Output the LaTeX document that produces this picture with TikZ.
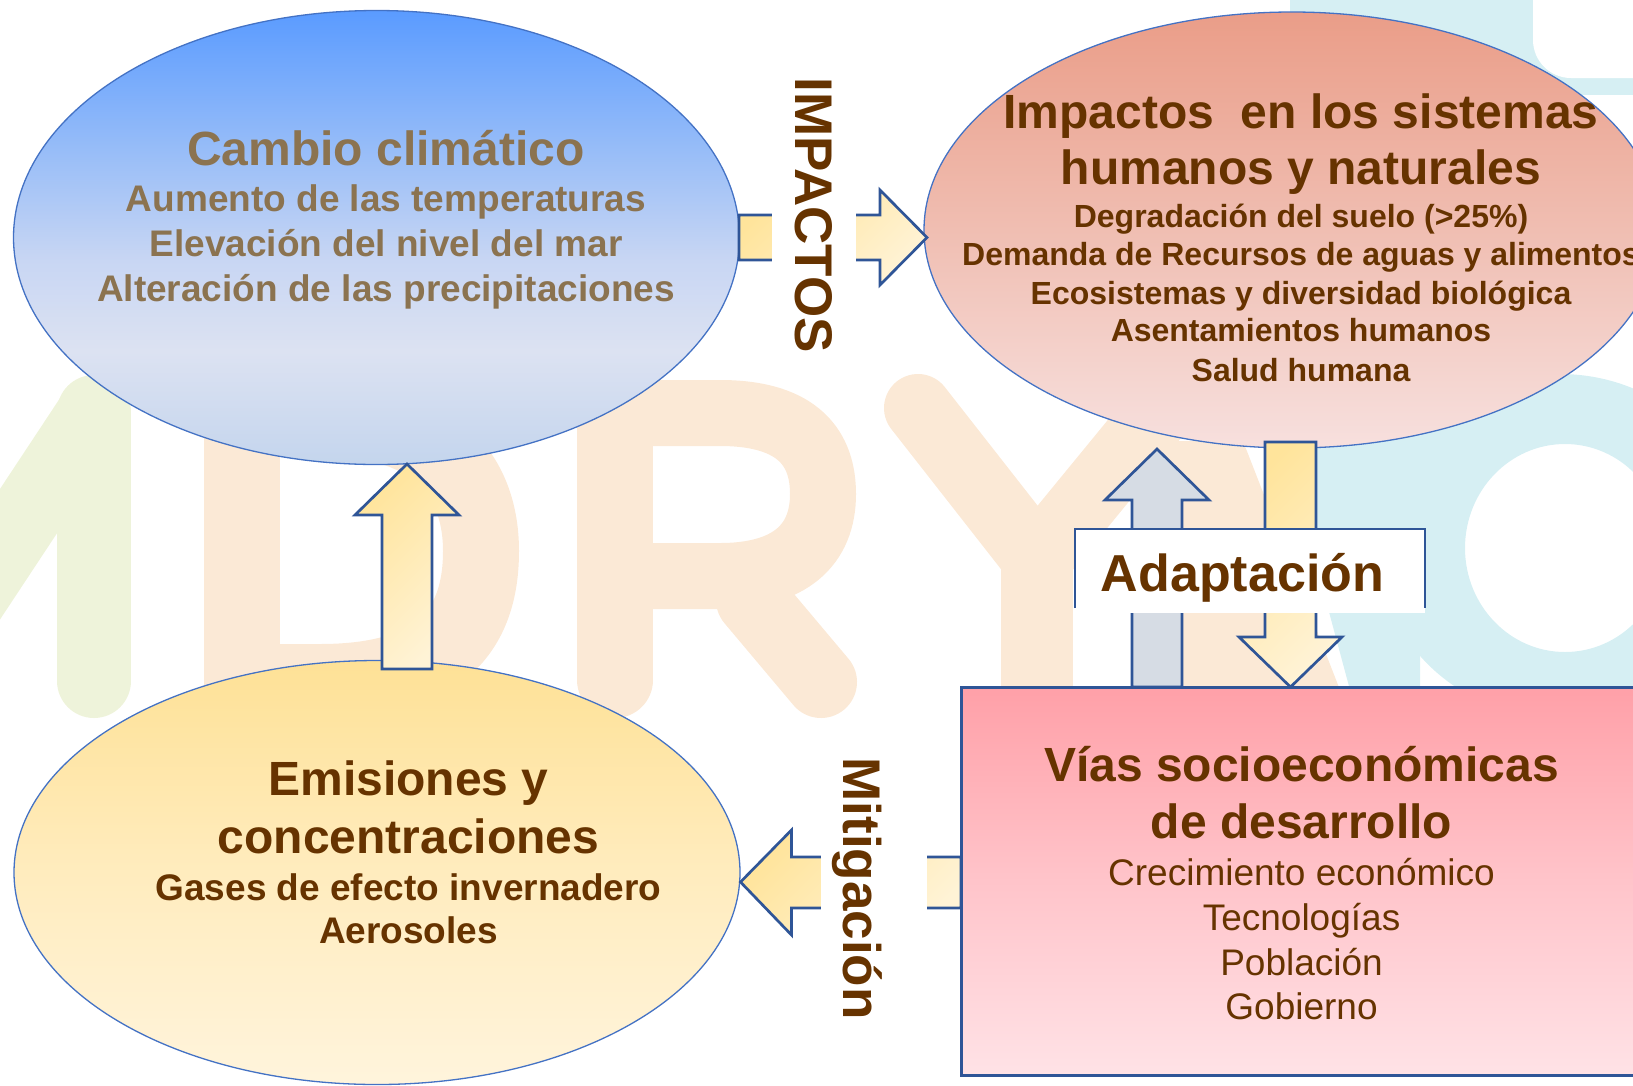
\documentclass[tikz,border=0pt]{standalone}
\usepackage{fontspec}
\setmainfont{Liberation Sans}
\usetikzlibrary{shapes.geometric}
\definecolor{brn}{RGB}{102,51,0}
\definecolor{olv}{RGB}{139,115,80}
\definecolor{ebl}{RGB}{68,114,196}
\definecolor{abl}{RGB}{47,85,151}
\definecolor{ydark}{RGB}{255,228,155}
\definecolor{ylight}{RGB}{255,243,214}
\definecolor{adgrey}{RGB}{214,220,228}
\definecolor{wmgreen}{RGB}{238,243,218}
\definecolor{wmorange}{RGB}{251,233,214}
\definecolor{wmcyan}{RGB}{214,239,243}
\definecolor{cA1}{RGB}{90,155,255}
\definecolor{cA2}{RGB}{150,188,248}
\definecolor{cA3}{RGB}{200,214,243}
\definecolor{cA4}{RGB}{220,226,242}
\definecolor{cA5}{RGB}{196,213,237}
\definecolor{iA1}{RGB}{234,157,136}
\definecolor{iA2}{RGB}{240,190,178}
\definecolor{iA3}{RGB}{247,224,222}
\definecolor{eA1}{RGB}{254,225,150}
\definecolor{eA2}{RGB}{255,236,190}
\definecolor{eA3}{RGB}{255,244,220}
\definecolor{vA1}{RGB}{255,160,168}
\definecolor{vA2}{RGB}{255,196,202}
\definecolor{vA3}{RGB}{255,226,230}
\pgfdeclareverticalshading{shCambio}{100bp}{color(0bp)=(cA5); color(25bp)=(cA5); color(37.5bp)=(cA4); color(47.5bp)=(cA3); color(60bp)=(cA2); color(75bp)=(cA1); color(100bp)=(cA1)}
\pgfdeclareverticalshading{shImp}{100bp}{color(0bp)=(iA3); color(25bp)=(iA3); color(50bp)=(iA2); color(75bp)=(iA1); color(100bp)=(iA1)}
\pgfdeclareverticalshading{shEmis}{100bp}{color(0bp)=(eA3); color(25bp)=(eA3); color(50bp)=(eA2); color(75bp)=(eA1); color(100bp)=(eA1)}
\pgfdeclareverticalshading{shVias}{100bp}{color(0bp)=(vA3); color(25bp)=(vA3); color(50bp)=(vA2); color(75bp)=(vA1); color(100bp)=(vA1)}
\tikzset{
  bubble/.style={ellipse, draw=ebl, line width=1.3pt, shade, inner sep=0pt, outer sep=0pt},
  yarrow/.style={draw=abl, line width=2.7pt, top color=ydark, bottom color=ylight, shading angle=45},
  garrow/.style={draw=abl, line width=2.7pt, fill=adgrey},
  tbase/.style={anchor=base, inner sep=0pt, outer sep=0pt},
  hbig/.style={tbase, text=brn, font=\fontsize{48}{56}\selectfont\bfseries},
  hmid/.style={tbase, text=brn, font=\fontsize{37}{44}\selectfont\bfseries},
  hsmall/.style={tbase, text=brn, font=\fontsize{32}{38}\selectfont\bfseries},
  hreg/.style={tbase, text=brn, font=\fontsize{37}{44}\selectfont},
  cbig/.style={tbase, text=olv, font=\fontsize{48}{56}\selectfont\bfseries},
  cmid/.style={tbase, text=olv, font=\fontsize{37}{44}\selectfont\bfseries},
  vlabel/.style={tbase, text=brn, rotate=-90, font=\fontsize{53}{60}\selectfont\bfseries},
  alabel/.style={tbase, text=brn, font=\fontsize{52}{60}\selectfont\bfseries}
}
\begin{document}
\begin{tikzpicture}[x=1pt,y=-1pt,line join=miter]
\useasboundingbox (0,0) rectangle (1633,1085);
\clip (0,0) rectangle (1633,1085);
% faint watermark
\fill[wmcyan] (1290,0) rectangle (1633,95);
\fill[white, rounded corners=38pt] (1533,-60) rectangle (1700,78);
\fill[wmcyan] (1280,430) -- (1420,400) -- (1420,690) -- (1350,690) -- cycle;
\fill[wmcyan, even odd rule] (1560,546) ellipse [x radius=182, y radius=172] (1565,548) ellipse [x radius=100, y radius=104];
\fill[wmorange] (1150,441) -- (1243,441) -- (1340,690) -- (1183,690) -- cycle;
\draw[wmgreen, line width=74pt, line cap=round] (94,412) -- (94,681);
\draw[wmgreen, line width=72pt, line cap=round] (94,412) -- (-60,645);
\fill[wmorange] (204,380) rectangle (280,720);
\draw[wmorange, line width=76pt] (242,418) -- (320,418) .. controls (440,418) and (481,480) .. (481,551) .. controls (481,630) and (440,682) .. (320,682) -- (242,682);
\fill[wmorange] (577,380) rectangle (653,680);
\fill[wmorange] (615,680) circle [radius=38];
\draw[wmorange, line width=66pt] (615,413) -- (720,413) .. controls (800,413) and (823,450) .. (823,494) .. controls (823,545) and (790,576) .. (720,576) -- (615,576);
\draw[wmorange, line width=72pt, line cap=round] (752,600) -- (821,682);
\draw[wmorange, line width=68pt, line cap=round] (918,408) -- (1037,560);
\draw[wmorange, line width=72pt] (1037,545) -- (1037,720);
\draw[wmorange, line width=68pt, line cap=round] (1037,560) -- (1160,410);
% main shapes
\node[bubble, shading=shCambio, minimum width=726pt, minimum height=454pt] (cambio) at (376.5,237.5) {};
\node[bubble, shading=shImp, minimum width=736pt, minimum height=436pt] (impactos) at (1292,230) {};
\node[bubble, shading=shEmis, minimum width=726pt, minimum height=424pt] (emisiones) at (377,872.5) {};
\node[rectangle, draw=abl, line width=3pt, shade, shading=shVias, minimum width=700pt, minimum height=388pt, anchor=north west, inner sep=0pt, outer sep=0pt] (vias) at (961,687) {};
% block arrows
\path[yarrow] (382,669) -- (382,515) -- (355,515) -- (407,464) -- (459,515) -- (432,515) -- (432,669) -- cycle;
\path[garrow] (1132,687) -- (1132,500) -- (1105,500) -- (1157,449) -- (1209,500) -- (1182,500) -- (1182,687) -- cycle;
\path[yarrow] (1265,442) -- (1316,442) -- (1316,637) -- (1342,637) -- (1290.5,687) -- (1239,637) -- (1265,637) -- cycle;
\path[yarrow] (739,215) -- (880,215) -- (880,190) -- (927,237.5) -- (880,285) -- (880,260) -- (739,260) -- cycle;
\path[yarrow] (961,857) -- (791.5,857) -- (791.5,830) -- (740.5,882) -- (791.5,935) -- (791.5,908) -- (961,908) -- cycle;
\fill[white] (771.7,180) rectangle (856,300);
\fill[white] (821,815) rectangle (927.3,950);
% Adaptacion box
\node[fill=white, rectangle, minimum width=350pt, minimum height=84pt, anchor=north west, inner sep=0pt, outer sep=0pt] (adbox) at (1075,529) {};
\draw[abl, line width=1.8pt] ([yshift=5pt]adbox.south west) -- (adbox.north west) -- (adbox.north east) -- ([yshift=5pt]adbox.south east);
% labels
\node[vlabel] (limp) at (795,215.3) {IMPACTOS};
\node[vlabel] (lmit) at (843.5,888.5) {Mitigación};
\node[alabel] (lada) at (1242.5,591) {Adaptación};
% Cambio climatico
\node[cbig] (c1) at (386,165.6) {Cambio climático};
\node[cmid] (c2) at (386,211.4) {Aumento de las temperaturas};
\node[cmid] (c3) at (386,256) {Elevación del nivel del mar};
\node[cmid] (c4) at (386,301) {Alteración de las precipitaciones};
% Impactos
\node[hbig] (i1) at (1301,128) {Impactos\ \ en los sistemas};
\node[hbig] (i2) at (1301,184.5) {humanos y naturales};
\node[hsmall] (i3) at (1301,227) {Degradación del suelo (>25\%)};
\node[hsmall] (i4) at (1301,265.5) {Demanda de Recursos de aguas y alimentos};
\node[hsmall] (i5) at (1301,304) {Ecosistemas y diversidad biológica};
\node[hsmall] (i6) at (1301,341.6) {Asentamientos humanos};
\node[hsmall] (i7) at (1301,381) {Salud humana};
% Emisiones
\node[hbig] (e1) at (408.5,795.5) {Emisiones y};
\node[hbig] (e2) at (408.5,853) {concentraciones};
\node[hmid] (e3) at (408.5,900) {Gases de efecto invernadero};
\node[hmid] (e4) at (408.5,943.5) {Aerosoles};
% Vias
\node[hbig] (v1) at (1301.5,781) {Vías socioeconómicas};
\node[hbig] (v2) at (1301.5,838) {de desarrollo};
\node[hreg] (v3) at (1301.5,885) {Crecimiento económico};
\node[hreg] (v4) at (1301.5,930) {Tecnologías};
\node[hreg] (v5) at (1301.5,975) {Población};
\node[hreg] (v6) at (1301.5,1019.5) {Gobierno};
\end{tikzpicture}
\end{document}
